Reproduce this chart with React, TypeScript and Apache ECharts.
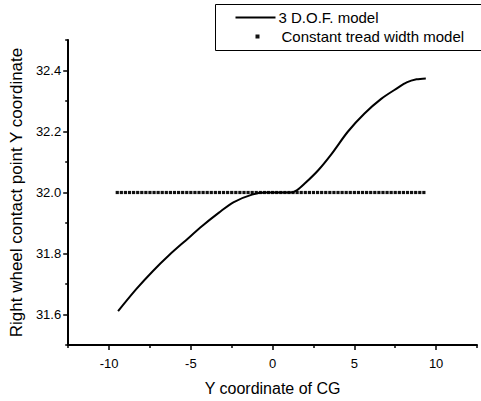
import React, { useEffect, useRef } from "react";
import * as echarts from "echarts";

const dofX = [-9.45, -8.34, -7.33, -6.32, -5.31, -4.29, -3.28, -2.4, -1.26, -0.45, 0.4, 1.1, 1.5, 1.98, 2.79, 3.6, 4.61, 5.62, 6.64, 7.65, 8.2, 8.8, 9.37];
const dofY = [31.611, 31.683, 31.742, 31.795, 31.843, 31.891, 31.934, 31.968, 31.993, 32.0, 32.0, 32.0, 32.008, 32.03, 32.073, 32.126, 32.2, 32.259, 32.307, 32.343, 32.361, 32.371, 32.374];

const constX = [
  -9.5, -9.25, -9.0, -8.75, -8.5, -8.25, -8.0, -7.75, -7.5, -7.25, -7.0, -6.75, -6.5, -6.25, -6.0, -5.75,
  -5.5, -5.25, -5.0, -4.75, -4.5, -4.25, -4.0, -3.75, -3.5, -3.25, -3.0, -2.75, -2.5, -2.25, -2.0, -1.75,
  -1.5, -1.25, -1.0, -0.75, -0.5, -0.25, 0.0, 0.25, 0.5, 0.75, 1.0, 1.25, 1.5, 1.75, 2.0, 2.25,
  2.5, 2.75, 3.0, 3.25, 3.5, 3.75, 4.0, 4.25, 4.5, 4.75, 5.0, 5.25, 5.5, 5.75, 6.0, 6.25,
  6.5, 6.75, 7.0, 7.25, 7.5, 7.75, 8.0, 8.25, 8.5, 8.75, 9.0, 9.25,
];
const constYValue = 32.0;

const xMajorTicks = [-10, -5, 0, 5, 10];
const xMinorTicks = [-12.5, -7.5, -2.5, 2.5, 7.5, 12.5];
const yMajorTicks = [31.6, 31.8, 32.0, 32.2, 32.4];
const yMinorTicks = [31.5, 31.7, 31.9, 32.1, 32.3, 32.5];

const seriesNames = ["3 D.O.F. model", "Constant tread width model"];
const xTitle = "Y coordinate of CG";
const yTitle = "Right wheel contact point Y coordinate";

const FONT = 'Arial, "Liberation Sans", sans-serif';

export default function App() {
  const ref = useRef<HTMLDivElement>(null);
  useEffect(() => {
    if (!ref.current) return;
    const chart = echarts.init(ref.current, null, { renderer: "svg" });
    chart.setOption({
      animation: false,
      backgroundColor: "#fff",
      textStyle: { fontFamily: FONT },
      grid: { left: 64, right: 4, top: 40, bottom: 47, containLabel: false },
      xAxis: [
        {
          type: "value",
          min: -12.5,
          max: 12.5,
          interval: 2.5,
          axisLine: { show: true, onZero: false, lineStyle: { color: "#000", width: 2 } },
          axisTick: { show: true, customValues: xMajorTicks, length: 5, lineStyle: { color: "#000", width: 1.5 } },
          axisLabel: { customValues: xMajorTicks, color: "#000", fontSize: 13, fontFamily: FONT, margin: 12 },
          splitLine: { show: false },
          name: xTitle,
          nameLocation: "middle",
          nameGap: 35,
          nameTextStyle: { color: "#000", fontSize: 16, fontFamily: FONT },
        },
        {
          type: "value",
          min: -12.5,
          max: 12.5,
          interval: 2.5,
          position: "bottom",
          axisLine: { show: false, onZero: false },
          axisTick: { show: true, customValues: xMinorTicks, length: 3, lineStyle: { color: "#000", width: 1.5 } },
          axisLabel: { show: false },
          splitLine: { show: false },
        },
      ],
      yAxis: [
        {
          type: "value",
          min: 31.5,
          max: 32.5,
          interval: 0.1,
          axisLine: { show: true, onZero: false, lineStyle: { color: "#000", width: 2 } },
          axisTick: { show: true, customValues: yMajorTicks, length: 5, lineStyle: { color: "#000", width: 1.5 } },
          axisLabel: {
            customValues: yMajorTicks,
            color: "#000",
            fontSize: 13,
            fontFamily: FONT,
            margin: 7,
            formatter: (v: number) => v.toFixed(1),
          },
          splitLine: { show: false },
          name: yTitle,
          nameLocation: "middle",
          nameGap: 39,
          nameRotate: 90,
          nameTextStyle: { color: "#000", fontSize: 17, fontFamily: FONT },
        },
        {
          type: "value",
          min: 31.5,
          max: 32.5,
          interval: 0.1,
          position: "left",
          axisLine: { show: false, onZero: false },
          axisTick: { show: true, customValues: yMinorTicks, length: 3, lineStyle: { color: "#000", width: 1.5 } },
          axisLabel: { show: false },
          splitLine: { show: false },
        },
      ],
      series: [
        {
          name: seriesNames[0],
          type: "line",
          smooth: 0.3,
          showSymbol: false,
          symbol: "none",
          data: dofX.map((x, i) => [x, dofY[i]]),
          lineStyle: { color: "#000", width: 2 },
          z: 3,
        },
        {
          name: seriesNames[1],
          type: "scatter",
          symbol: "rect",
          symbolSize: 3.2,
          data: constX.map((x) => [x, constYValue]),
          itemStyle: { color: "#111", opacity: 1 },
          z: 2,
        },
      ],
      graphic: [
        {
          type: "group",
          left: 215,
          top: 4,
          children: [
            {
              type: "rect",
              shape: { x: 0, y: 0, width: 280, height: 46 },
              style: { fill: "#fff", stroke: "#000", lineWidth: 1 },
            },
            {
              type: "line",
              shape: { x1: 20, y1: 13, x2: 60, y2: 13 },
              style: { stroke: "#000", lineWidth: 2 },
            },
            {
              type: "text",
              x: 63,
              y: 13,
              style: { text: seriesNames[0], fill: "#000", font: `15px ${FONT}`, verticalAlign: "middle" },
            },
            {
              type: "rect",
              shape: { x: 40, y: 30, width: 4, height: 4 },
              style: { fill: "#111" },
            },
            {
              type: "text",
              x: 66,
              y: 32,
              style: { text: seriesNames[1], fill: "#000", font: `15px ${FONT}`, verticalAlign: "middle" },
            },
          ],
        },
      ],
    });
    return () => chart.dispose();
  }, []);
  return <div ref={ref} style={{ width: 481, height: 401, position: "absolute", left: 0, top: 0 }} />;
}
